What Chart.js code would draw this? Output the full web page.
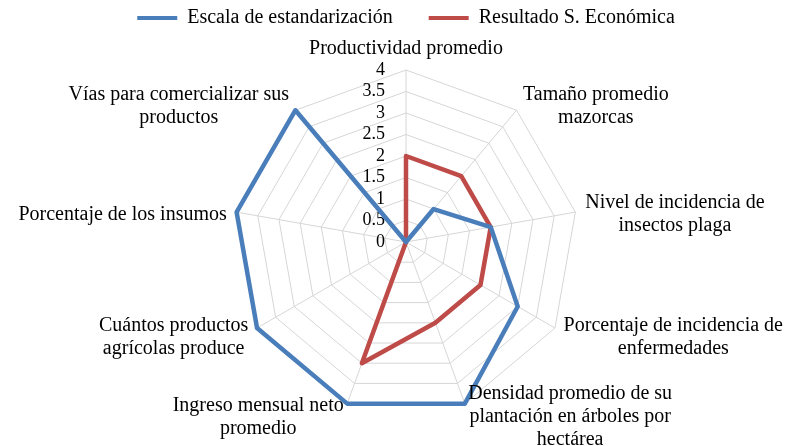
<!DOCTYPE html>
<html>
<head>
<meta charset="utf-8">
<script src="https://cdn.jsdelivr.net/npm/chart.js@4.4.0/dist/chart.umd.min.js"></script>
<style>
  html, body { margin: 0; padding: 0; background: #fff; }
</style>
</head>
<body>
<canvas id="radar" width="787" height="446"></canvas>
<script>
// datos
const categorias = [
  ['Productividad promedio'],
  ['Tamaño promedio', 'mazorcas'],
  ['Nivel de incidencia de', 'insectos plaga'],
  ['Porcentaje de incidencia de', 'enfermedades'],
  ['Densidad promedio de su', 'plantación en árboles por', 'hectárea'],
  ['Ingreso mensual neto', 'promedio'],
  ['Cuántos productos', 'agrícolas produce'],
  ['Porcentaje de los insumos'],
  ['Vías para comercializar sus', 'productos']
];
const escala = [0, 1, 2, 3, 4, 4, 4, 4, 4];
const resultado = [2, 2, 2, 2, 2, 3, 0, 0, 0];
const escalaMin = 0;
const escalaMax = 4;
const escalaPaso = 0.5;

const FUENTE = '"Liberation Serif", "Times New Roman", serif';

// deja espacio debajo de la leyenda
const espacioLeyenda = {
  id: 'espacioLeyenda',
  beforeInit(chart) {
    const fit = chart.legend.fit;
    chart.legend.fit = function () {
      fit.call(this);
      this.height += 32;
    };
  }
};

// números del eje a la izquierda del eje vertical
const etiquetasEscala = {
  id: 'etiquetasEscala',
  beforeDatasetsDraw(chart) {
    const s = chart.scales.r, ctx = chart.ctx;
    ctx.save();
    ctx.font = '18px ' + FUENTE;
    ctx.fillStyle = '#000';
    ctx.textAlign = 'right';
    ctx.textBaseline = 'middle';
    s.ticks.forEach(t => {
      const d = s.getDistanceFromCenterForValue(t.value);
      ctx.fillText(String(t.value), s.xCenter - 21, s.yCenter - d);
    });
    ctx.restore();
  }
};

// nombres de los ejes, líneas centradas como en Excel
const etiquetasEjes = {
  id: 'etiquetasEjes',
  afterDraw(chart) {
    const s = chart.scales.r, ctx = chart.ctx, lh = 23;
    ctx.save();
    ctx.font = '20px ' + FUENTE;
    ctx.fillStyle = '#000';
    ctx.textAlign = 'center';
    ctx.textBaseline = 'middle';
    chart.data.labels.forEach((lineas, i) => {
      const p = s.getPointPosition(i, s.drawingArea + 10);
      const ang = p.angle + Math.PI / 2;
      const sin = Math.sin(ang), cos = Math.cos(ang);
      const w = Math.max(...lineas.map(l => ctx.measureText(l).width));
      const h = lineas.length * lh;
      let cx = p.x;
      if (sin > 0.1) cx = p.x + w / 2;
      else if (sin < -0.1) cx = p.x - w / 2;
      const top = cos > 0.95 ? p.y - h : p.y - h / 2 + 4;
      lineas.forEach((l, j) => ctx.fillText(l, cx, top + lh * (j + 0.5)));
    });
    ctx.restore();
  }
};

new Chart(document.getElementById('radar'), {
  type: 'radar',
  data: {
    labels: categorias,
    datasets: [
      {
        label: 'Escala de estandarización',
        data: escala,
        borderColor: '#4a7ebb',
        backgroundColor: '#4a7ebb',
        borderWidth: 4.5,
        pointRadius: 0,
        fill: false,
        borderJoinStyle: 'round'
      },
      {
        label: 'Resultado S. Económica',
        data: resultado,
        borderColor: '#be4b48',
        backgroundColor: '#be4b48',
        borderWidth: 4.5,
        pointRadius: 0,
        fill: false,
        borderJoinStyle: 'round'
      }
    ]
  },
  options: {
    responsive: false,
    animation: false,
    layout: { padding: { top: -28, left: 25, right: 0, bottom: 32 } },
    plugins: {
      tooltip: { enabled: false },
      legend: {
        position: 'top',
        labels: {
          boxWidth: 40,
          boxHeight: 4,
          padding: 36,
          color: '#000',
          font: { family: FUENTE, size: 20 },
          generateLabels(chart) {
            return Chart.defaults.plugins.legend.labels.generateLabels(chart)
              .map(l => ({ ...l, lineWidth: 0, fillStyle: l.strokeStyle }));
          }
        }
      }
    },
    scales: {
      r: {
        min: escalaMin,
        max: escalaMax,
        ticks: { stepSize: escalaPaso, display: false },
        grid: { color: '#d6d6d6', lineWidth: 1 },
        angleLines: { color: '#d6d6d6', lineWidth: 1 },
        pointLabels: { display: false }
      }
    }
  },
  plugins: [espacioLeyenda, etiquetasEscala, etiquetasEjes]
});
</script>
</body>
</html>
